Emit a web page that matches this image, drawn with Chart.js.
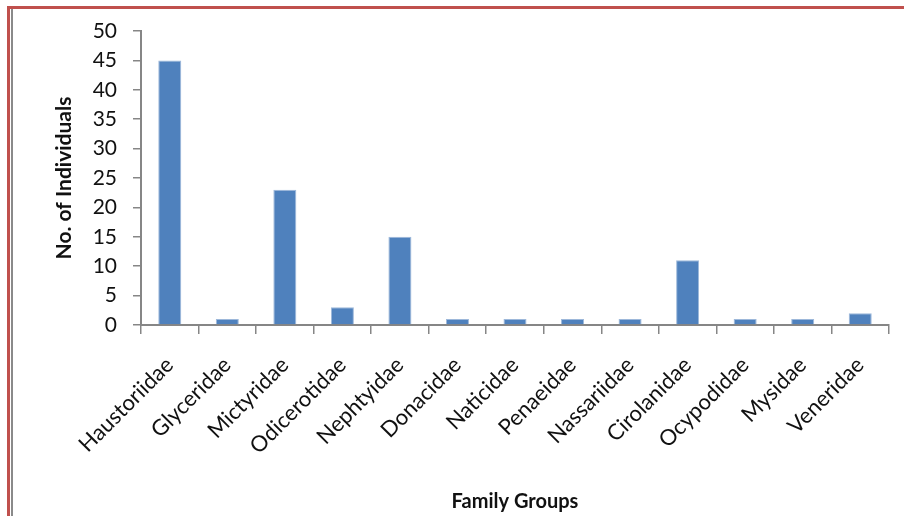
<!DOCTYPE html>
<html>
<head>
<meta charset="utf-8">
<script src="https://cdn.jsdelivr.net/npm/chart.js@4/dist/chart.umd.min.js"></script>
<style>
  html, body { margin: 0; padding: 0; background: #fff; }
  #wrap { position: relative; width: 904px; height: 516px; overflow: hidden; }
  #c { position: absolute; left: 0; top: 0; }
  .frame { position: absolute; }
  #topRed { left: 7px; top: 6px; width: 897px; height: 3px; background: #C0504D; }
  #leftRed { left: 7px; top: 6px; width: 3px; height: 510px; background: #C0504D; }
  #leftGray { left: 11px; top: 9px; width: 2px; height: 507px; background: #8a8a8a; }
</style>
</head>
<body>
<div id="wrap">
  <canvas id="c" width="904" height="516"></canvas>
  <div class="frame" id="topRed"></div>
  <div class="frame" id="leftRed"></div>
  <div class="frame" id="leftGray"></div>
</div>
<script>
// Family groups and the number of individuals counted in each
const families = ['Haustoriidae', 'Glyceridae', 'Mictyridae', 'Odicerotidae', 'Nephtyidae',
  'Donacidae', 'Naticidae', 'Penaeidae', 'Nassariidae', 'Cirolanidae', 'Ocypodidae',
  'Mysidae', 'Veneridae'];
const individuals = [45, 1, 23, 3, 15, 1, 1, 1, 1, 11, 1, 1, 2];
const yTicks = [0, 5, 10, 15, 20, 25, 30, 35, 40, 45, 50];

const FONT = 'Lato, "Open Sans", sans-serif';
const AXIS_GRAY = '#868686';
const PAD_LEFT = 46, PAD_BOTTOM = 0;

new Chart(document.getElementById('c'), {
  type: 'bar',
  data: {
    labels: families,
    datasets: [{
      data: individuals,
      backgroundColor: '#4F81BD',
      borderColor: '#9DB8DA',
      borderWidth: 1,
      borderSkipped: 'bottom',
      barPercentage: 0.4,
      categoryPercentage: 1.0
    }]
  },
  options: {
    responsive: false,
    animation: false,
    layout: { padding: { left: PAD_LEFT, right: 15, top: 31, bottom: PAD_BOTTOM } },
    plugins: { legend: { display: false }, tooltip: { enabled: false } },
    scales: {
      x: {
        offset: true,
        grid: {
          offset: true,
          drawOnChartArea: false,
          drawTicks: true,
          tickLength: 9,
          color: AXIS_GRAY,
          lineWidth: 1.5
        },
        border: { color: AXIS_GRAY, width: 2 },
        ticks: {
          minRotation: 45,
          maxRotation: 45,
          autoSkip: false,
          padding: 18,
          color: '#111',
          font: { family: FONT, size: 22 }
        },
        title: {
          display: true,
          text: 'Family Groups',
          color: '#111',
          font: { family: FONT, size: 20, weight: 'bold' },
          padding: { top: 0, bottom: 2 }
        },
        afterFit(scale) { scale.height = 516 - 325 - PAD_BOTTOM; }
      },
      y: {
        min: 0,
        max: 50,
        afterBuildTicks(scale) { scale.ticks = yTicks.map(v => ({ value: v })); },
        grid: {
          drawOnChartArea: false,
          drawTicks: true,
          tickLength: 8,
          color: AXIS_GRAY,
          lineWidth: 1.5
        },
        border: { color: AXIS_GRAY, width: 2 },
        ticks: {
          padding: 16,
          color: '#111',
          font: { family: FONT, size: 21 }
        },
        title: {
          display: true,
          text: 'No. of Individuals',
          color: '#111',
          font: { family: FONT, size: 21, weight: 'bold' },
          padding: { top: 6, bottom: 0 }
        },
        afterFit(scale) { scale.width = 141 - PAD_LEFT; }
      }
    }
  }
});
</script>
</body>
</html>
